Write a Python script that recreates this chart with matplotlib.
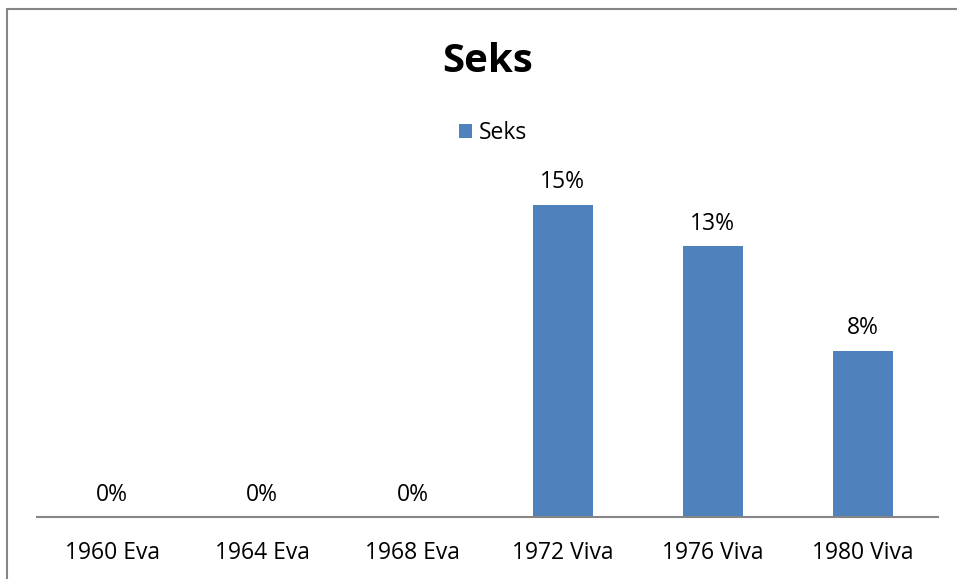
import matplotlib
matplotlib.use("Agg")
import matplotlib.pyplot as plt
from matplotlib.patches import Rectangle

# ==== data ====
categories = ["1960 Eva", "1964 Eva", "1968 Eva", "1972 Viva", "1976 Viva", "1980 Viva"]
values = [0, 0, 0, 15, 13, 8]
value_labels = ["0%", "0%", "0%", "15%", "13%", "8%"]
series_name = "Seks"

BAR_COLOR = "#4F81BD"
AXIS_COLOR = "#868686"

plt.rcParams["font.family"] = ["Open Sans", "DejaVu Sans"]

W, H = 957, 579
fig = plt.figure(figsize=(W / 100, H / 100), dpi=100)
ax = fig.add_axes([37 / W, 1 - 517 / H, (938 - 37) / W, (517 - 184) / H])

x = range(len(categories))
ax.bar(x, values, width=0.4, color=BAR_COLOR, label=series_name)
ax.set_xlim(-0.5, len(categories) - 0.5)
ax.set_ylim(0, 16)

for xi, v, lab in zip(x, values, value_labels):
    ax.annotate(lab, (xi, v), xytext=(0, 7.5), textcoords="offset points",
                ha="center", va="bottom", fontsize=16.5, color="black")

for s in ["top", "right", "left"]:
    ax.spines[s].set_visible(False)
ax.spines["bottom"].set_color(AXIS_COLOR)
ax.spines["bottom"].set_linewidth(1.5)
ax.set_yticks([])
ax.set_xticks(list(x))
ax.set_xticklabels(categories, fontsize=16.5)
ax.tick_params(axis="x", length=0, pad=17)

fig.text(488 / W, 1 - 62 / H, "Seks", ha="center", va="center",
         fontsize=29, fontweight="bold")

fig.legend(loc="center", bbox_to_anchor=(493 / W, 1 - 133 / H), frameon=False,
           fontsize=16.5, handlelength=0.55, handleheight=0.55, handletextpad=0.3)

# chart border (only left and top visible in the original crop)
fig.add_artist(Rectangle((7.5 / W, -0.1), 1.2, 1 - 8.5 / H + 0.1, transform=fig.transFigure,
                         fill=False, edgecolor=AXIS_COLOR, linewidth=1.5))

fig.savefig("out.png", dpi=100)
